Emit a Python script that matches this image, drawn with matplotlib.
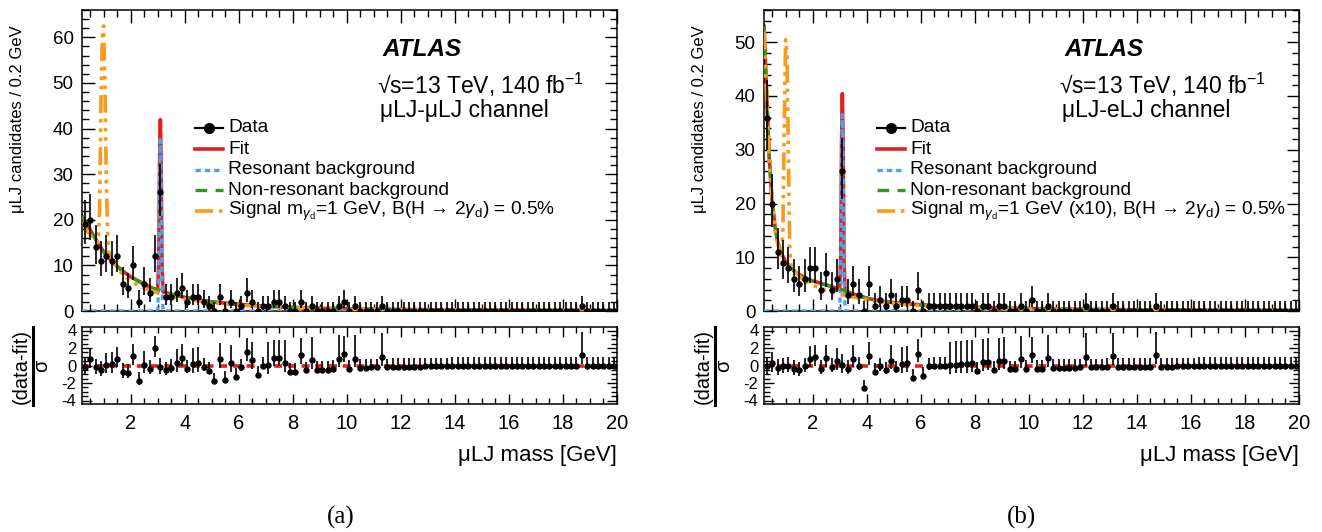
import numpy as np
import matplotlib
matplotlib.use('Agg')
import matplotlib.pyplot as plt
from matplotlib.lines import Line2D
from matplotlib.ticker import MultipleLocator

plt.rcParams['font.family'] = ['Liberation Sans', 'DejaVu Sans']
plt.rcParams['mathtext.fontset'] = 'custom'
plt.rcParams['mathtext.rm'] = 'Liberation Sans'
plt.rcParams['mathtext.it'] = 'Liberation Sans:italic'
plt.rcParams['mathtext.bf'] = 'Liberation Sans:bold'
plt.rcParams['axes.unicode_minus'] = False

# binning: 0.2 GeV bins from 0.2 to 20 GeV
bin_lo, bin_hi, bin_w = 0.2, 20.0, 0.2

# ---- (a) muLJ-muLJ channel ----
counts_a = [19, 20, 14, 11, 12, 11, 12, 6, 5, 10,
            2, 6, 4, 12, 26, 3, 3, 4, 5, 2,
            3, 3, 2, 1, 0, 3, 0, 2, 0, 1,
            4, 2, 0, 1, 1, 2, 2, 1, 0, 0,
            2, 0, 1, 0, 0, 0, 0, 1, 2, 0,
            1, 0, 0, 0, 0, 1, 0, 0, 0, 0,
            0, 0, 0, 0, 0, 0, 0, 0, 0, 0,
            0, 0, 0, 0, 0, 0, 0, 0, 0, 0,
            0, 0, 0, 0, 0, 0, 0, 0, 0, 0,
            0, 0, 1, 0, 0, 0, 0, 0, 0]
pull_a = [-0.17, 0.75, -0.2, -0.5, 0.1, 0.15, 0.8, -0.75, -0.8, 1.1,
          -1.75, 0.1, -0.4, 2.0, -0.15, -0.55, -0.3, 0.3, 0.9, -0.4,
          0.2, 0.3, -0.15, -0.6, -1.8, 0.75, -1.6, 0.3, -1.3, -0.2,
          1.5, 0.65, -1.05, 0.0, 0.05, 0.9, 0.9, 0.25, -0.7, -0.7,
          1.15, -0.55, 0.6, -0.5, -0.5, -0.5, -0.4, 0.8, 1.35, -0.35,
          0.8, -0.25, -0.25, -0.2, -0.2, 1.0, -0.2, -0.15, -0.15, -0.15,
          -0.15, -0.12, -0.12, -0.1, -0.1, -0.1, -0.1, -0.1, -0.08, -0.08,
          -0.08, -0.08, -0.08, -0.08, -0.08, -0.08, -0.08, -0.08, -0.08, -0.08,
          -0.06, -0.06, -0.06, -0.06, -0.06, -0.06, -0.06, -0.06, -0.06, -0.06,
          -0.05, -0.05, 1.2, -0.05, -0.05, -0.04, -0.04, -0.04, -0.04]

# fit curves
curve_x = [0.2, 0.3, 0.4, 0.5, 0.6, 0.7, 0.8, 1.0, 1.2, 1.4, 1.7, 2.0, 2.4, 2.8,
           3.0, 3.04, 3.07, 3.1, 3.13, 3.16, 3.2, 3.6, 4.0, 4.5, 5.0, 6.0, 7.0,
           8.0, 9.0, 10.0, 12.0, 14.0, 16.0, 18.0, 20.0]
nonres_a = [20.8, 19.8, 18.8, 17.8, 16.8, 15.8, 14.8, 13.0, 11.6, 10.3, 8.8, 7.5, 6.2, 5.0,
            4.7, 4.6, 4.5, 4.45, 4.4, 4.3, 4.2, 3.5, 3.0, 2.5, 2.0, 1.45, 1.05,
            0.8, 0.6, 0.48, 0.33, 0.24, 0.18, 0.13, 0.1]
res_a = [0, 0, 0, 0, 0, 0, 0, 0, 0, 0, 0, 0, 0, 0,
         0, 6, 28, 37.5, 28, 6, 0, 0, 0, 0, 0, 0, 0,
         0, 0, 0, 0, 0, 0, 0, 0]
sig_x = [0.2, 0.4, 0.6, 0.8, 0.85, 0.9, 0.95, 1.0, 1.05, 1.1, 1.15, 1.2, 1.4, 1.7,
         2.0, 2.5, 3.0, 3.5, 4.0, 5.0, 6.0, 8.0, 10.0, 14.0, 20.0]
sig_a = [19.5, 17.5, 15.8, 15.0, 22, 45, 60, 62.5, 50, 28, 17, 12.5, 10.5, 8.0,
         6.5, 5.0, 4.0, 3.2, 2.6, 1.8, 1.25, 0.7, 0.42, 0.22, 0.1]

# ---- (b) muLJ-eLJ channel ----
counts_b = [36, 20, 11, 9, 8, 6, 5, 6, 8, 8,
            4, 7, 4, 6, 26, 3, 5, 3, 0, 5,
            1, 2, 1, 3, 1, 2, 2, 0, 4, 0,
            1, 1, 1, 1, 1, 1, 1, 1, 1, 0,
            1, 1, 0, 1, 1, 0, 0, 1, 0, 2,
            0, 0, 1, 0, 0, 0, 0, 0, 0, 1,
            0, 0, 0, 0, 1, 0, 0, 0, 0, 0,
            0, 0, 1, 0, 0, 0, 0, 0, 0, 0,
            0, 0, 0, 0, 0, 0, 0, 0, 0, 0,
            0, 0, 0, 0, 0, 0, 0, 0, 0]
pull_b = [-0.1, 0.25, -0.3, -0.1, 0.0, -0.4, -0.55, -0.1, 0.8, 0.95,
          -0.35, 0.85, -0.15, 0.5, 0.1, -0.4, 0.8, 0.0, -2.6, 1.1,
          -0.7, -0.1, -0.55, 0.55, -0.45, 0.15, 0.25, -1.4, 1.35, -1.2,
          -0.1, -0.05, 0.0, 0.0, 0.05, 0.1, 0.15, 0.2, 0.25, -0.6,
          0.35, 0.45, -0.5, 0.5, 0.55, -0.45, -0.45, 0.7, -0.4, 1.25,
          -0.35, -0.35, 0.85, -0.3, -0.3, -0.25, -0.25, -0.25, -0.2, 1.0,
          -0.2, -0.2, -0.2, -0.18, 1.05, -0.18, -0.15, -0.15, -0.15, -0.15,
          -0.15, -0.15, 1.15, -0.12, -0.12, -0.12, -0.1, -0.1, -0.1, -0.1,
          -0.08, -0.08, -0.08, -0.08, -0.08, -0.08, -0.08, -0.08, -0.08, -0.08,
          -0.06, -0.06, -0.06, -0.06, -0.06, -0.06, -0.06, -0.06, -0.06]
nonres_b = [53, 40, 28, 20.5, 16, 13, 11.2, 9.2, 8.0, 7.1, 6.2, 5.6, 5.0, 4.4,
            4.1, 4.05, 4.0, 3.95, 3.9, 3.85, 3.75, 3.0, 2.4, 1.85, 1.55, 1.15, 0.85,
            0.68, 0.55, 0.45, 0.32, 0.23, 0.17, 0.13, 0.1]
res_b = [0, 0, 0, 0, 0, 0, 0, 0, 0, 0, 0, 0, 0, 0,
         0, 6, 27, 36.5, 27, 6, 0, 0, 0, 0, 0, 0, 0,
         0, 0, 0, 0, 0, 0, 0, 0]
sig_b = [52, 27, 15, 10.5, 10.2, 15, 35, 50.5, 48, 30, 12, 8.5, 7.0, 5.6,
         4.8, 3.8, 3.1, 2.6, 2.1, 1.4, 1.0, 0.55, 0.35, 0.2, 0.1]

RED = '#e3211c'
BLUE = '#4aa3f0'
GREEN = '#2f9a1e'
ORANGE = '#fb9a1a'
sig_style = (0, (5, 1.6, 1, 1.6, 1, 1.6, 1, 1.6))

W, H = 1322, 532
fig = plt.figure(figsize=(W / 100, H / 100), dpi=100)


def box(x0, y0, x1, y1):
    return [x0 / W, 1 - y1 / H, (x1 - x0) / W, (y1 - y0) / H]


def fxy(x, y):
    return (x / W, 1 - y / H)


def poisson_band(n):
    n = np.asarray(n, float)
    up = n + 1 + np.sqrt(n + 0.75)
    lo = np.where(n > 0, n - np.sqrt(np.clip(n - 0.25, 0, None)), 0.0)
    return lo, up


def style_axes(ax):
    ax.tick_params(which='both', direction='in', top=True, right=True, width=1)
    ax.tick_params(which='major', length=9)
    ax.tick_params(which='minor', length=5)
    for s in ax.spines.values():
        s.set_linewidth(1.1)
    ax.xaxis.set_major_locator(MultipleLocator(2))
    ax.xaxis.set_minor_locator(MultipleLocator(0.5))
    ax.set_xlim(bin_lo, bin_hi)


def panel(x0, x1, counts, pulls, nonres, res, sig, ymax, channel, sig_label):
    centers = np.arange(bin_lo + bin_w / 2, bin_hi, bin_w)
    n = np.asarray(counts, float)
    lo, up = poisson_band(n)
    fit = np.asarray(nonres) + np.asarray(res)

    ax = fig.add_axes(box(x0, 10, x1, 311))
    style_axes(ax)
    ax.plot(curve_x, fit, color=RED, lw=2.6, zorder=2)
    ax.plot(curve_x, res, color=BLUE, lw=2.4, ls=(0, (1.6, 1.2)), zorder=3)
    ax.plot(curve_x, nonres, color=GREEN, lw=2.4, ls=(0, (3.5, 2.5)), zorder=3)
    ax.plot(sig_x, sig, color=ORANGE, lw=2.6, ls=sig_style, zorder=4)
    ax.errorbar(centers, n, yerr=[n - lo, up - n], fmt='o', color='k', ms=3.6,
                elinewidth=1.2, capsize=0, zorder=6)
    ax.set_ylim(0, ymax)
    ax.yaxis.set_major_locator(MultipleLocator(10))
    ax.yaxis.set_minor_locator(MultipleLocator(2))
    ax.tick_params(labelbottom=False, labelsize=13.5, pad=6)

    # ratio panel
    p = np.asarray(pulls, float)
    above = (p > 0) & (n > 0)
    sigma = np.where(above, n - lo, up - n)
    rx = fig.add_axes(box(x0, 327, x1, 404))
    style_axes(rx)
    rx.axhline(0, color=RED, lw=2.6, ls=(0, (2.2, 1.6)), zorder=2)
    rx.errorbar(centers, p, yerr=[(n - lo) / sigma, (up - n) / sigma], fmt='o',
                color='k', ms=3.6, elinewidth=1.2, capsize=0, zorder=5)
    rx.set_ylim(-4.4, 4.4)
    rx.yaxis.set_major_locator(MultipleLocator(2))
    rx.yaxis.set_minor_locator(MultipleLocator(0.5))
    rx.tick_params(axis='x', labelsize=14.5, pad=7)
    rx.tick_params(axis='y', labelsize=12, pad=4)
    rx.tick_params(which='major', length=7)
    rx.tick_params(which='minor', length=4)

    # axis titles
    fig.text(*fxy(x0 - 64, 25), 'μLJ candidates / 0.2 GeV', rotation=90,
             ha='center', va='top', fontsize=12)
    fig.text(*fxy(x0 - 61, 366), '(data-fit)', rotation=90, ha='center',
             va='center', fontsize=14.5)
    fig.add_artist(Line2D([(x0 - 49) / W] * 2, [1 - 327 / H, 1 - 405 / H],
                          color='k', lw=2.2))
    fig.text(*fxy(x0 - 40, 366), 'σ', rotation=90, ha='center', va='center',
             fontsize=14.5)
    fig.text(*fxy(x1, 455), 'μLJ mass [GeV]', ha='right', va='center', fontsize=16)

    # labels
    fig.text(*fxy(x0 + 301, 56), 'ATLAS', fontsize=17.5, fontweight='bold',
             style='italic', va='baseline')
    fig.text(*fxy(x0 + 295, 94), r'√s=13 TeV, 140 fb$^{-1}$', fontsize=16.5,
             va='baseline')
    fig.text(*fxy(x0 + 298, 117), channel, fontsize=16.5, va='baseline')

    # legend drawn by hand
    hx0, hx1, tx = x0 + 113, x0 + 141, x0 + 146
    rows = [128, 149, 170, 190, 211]
    entries = [
        dict(color='k', lw=1.6, marker='o', ms=7, label='Data'),
        dict(color=RED, lw=2.6, label='Fit'),
        dict(color=BLUE, lw=2.4, ls=(0, (1.6, 1.2)), label='Resonant background'),
        dict(color=GREEN, lw=2.4, ls=(0, (3.5, 2.5)), label='Non-resonant background'),
        dict(color=ORANGE, lw=2.6, ls=sig_style, label=sig_label),
    ]
    for y, e in zip(rows, entries):
        label = e.pop('label')
        xs = [hx0 / W, hx1 / W]
        ys = [1 - y / H] * 2
        if 'marker' in e:
            fig.add_artist(Line2D(xs, ys, color=e['color'], lw=e['lw']))
            fig.add_artist(Line2D([(hx0 + hx1) / 2 / W], [ys[0]], color='k',
                                  marker='o', ms=e['ms'], lw=0))
        else:
            fig.add_artist(Line2D(xs, ys, **e))
        fig.text(*fxy(tx, y), label, fontsize=13.8, va='center', ha='left')


panel(82, 617, counts_a, pull_a, nonres_a, res_a, sig_a, 66, 'μLJ-μLJ channel',
      r'Signal m$_{\gamma_{\mathrm{d}}}$=1 GeV, B(H → 2$\gamma_{\mathrm{d}}$) = 0.5%')
panel(764, 1299, counts_b, pull_b, nonres_b, res_b, sig_b, 56, 'μLJ-eLJ channel',
      r'Signal m$_{\gamma_{\mathrm{d}}}$=1 GeV (x10), B(H → 2$\gamma_{\mathrm{d}}$) = 0.5%')

fig.text(*fxy(341, 517), '(a)', family='Liberation Serif', fontsize=18,
         ha='center', va='center')
fig.text(*fxy(1022, 517), '(b)', family='Liberation Serif', fontsize=18,
         ha='center', va='center')

fig.savefig('out.png', dpi=100)
